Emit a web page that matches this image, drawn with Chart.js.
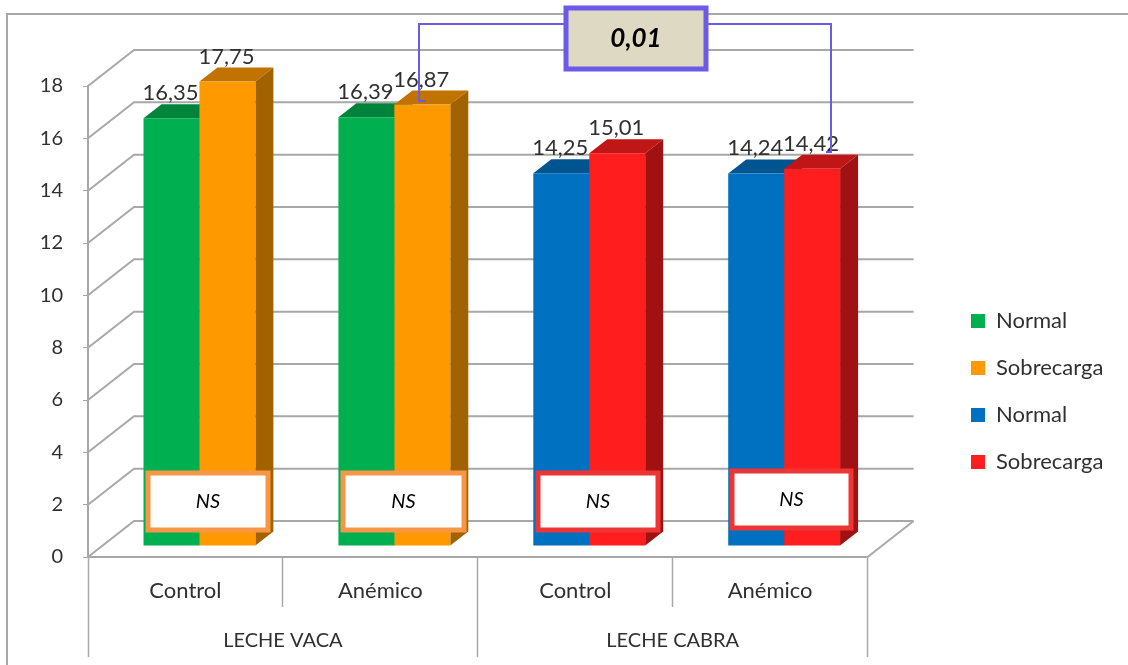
<!DOCTYPE html>
<html lang="es">
<head>
<meta charset="utf-8">
<title>Leche vaca / leche cabra</title>
<script src="https://cdn.jsdelivr.net/npm/chart.js@4/dist/chart.umd.min.js"></script>
<style>
    html, body { margin: 0; padding: 0; background: #ffffff; }
    canvas { display: block; }
</style>
</head>
<body>
<canvas id="grafico" width="1128" height="665"></canvas>
<script>
const categorias = ['Control', 'Anémico', 'Control', 'Anémico']
const grupos = ['LECHE VACA', 'LECHE CABRA']
const valores_y = [0, 2, 4, 6, 8, 10, 12, 14, 16, 18]

const normal_vaca = [16.35, 16.39, null, null]
const sobrecarga_vaca = [17.75, 16.87, null, null]
const normal_cabra = [null, null, 14.25, 14.24]
const sobrecarga_cabra = [null, null, 15.01, 14.42]

const etiqueta_ns = 'NS'
const etiqueta_p = '0,01'

const FONTE = 'Lato, "Open Sans", sans-serif'
const COR_EIXO = '#a8a8a8'
const COR_TEXTO = '#303030'
const COR_CALLOUT = '#6c5ae8'

// profundidade da caixa 3D (parede do fundo) e das barras
const FUNDO_X = 46
const FUNDO_Y = -36
const BARRA_X = 14
const BARRA_Y = -11
const BARRA_PROF_X = 18
const BARRA_PROF_Y = -14

// caixas NS: x, y, largura, altura e cor da borda
const caixas_ns = [
    [148, 473, 120, 57, '#f79646'],
    [343, 473, 121, 57, '#f79646'],
    [538, 473, 120, 57, '#ee3535'],
    [732, 471, 119, 57, '#ee3535'],
]

function desenhar_caixa_fundo(chart) {
    const ctx = chart.ctx
    const area = chart.chartArea
    const y = chart.scales.y
    ctx.save()
    ctx.strokeStyle = COR_EIXO
    ctx.lineWidth = 2
    valores_y.forEach(v => {
        const py = y.getPixelForValue(v)
        ctx.beginPath()
        ctx.moveTo(area.left, py)
        ctx.lineTo(area.left + FUNDO_X, py + FUNDO_Y)
        ctx.lineTo(area.right + FUNDO_X, py + FUNDO_Y)
        ctx.stroke()
    })
    // lateral direita do chao
    ctx.beginPath()
    ctx.moveTo(area.right, area.bottom)
    ctx.lineTo(area.right + FUNDO_X, area.bottom + FUNDO_Y)
    ctx.stroke()
    ctx.restore()
}

function desenhar_faces(chart) {
    const ctx = chart.ctx
    chart.data.datasets.forEach((ds, i) => {
        chart.getDatasetMeta(i).data.forEach((barra, j) => {
            if (ds.data[j] == null) return
            const esq = barra.x - barra.width / 2
            const dir = barra.x + barra.width / 2
            // topo
            ctx.fillStyle = ds.corTopo
            ctx.beginPath()
            ctx.moveTo(esq, barra.y)
            ctx.lineTo(esq + BARRA_PROF_X, barra.y + BARRA_PROF_Y)
            ctx.lineTo(dir + BARRA_PROF_X, barra.y + BARRA_PROF_Y)
            ctx.lineTo(dir, barra.y)
            ctx.closePath()
            ctx.fill()
            // lateral
            ctx.fillStyle = ds.corLado
            ctx.beginPath()
            ctx.moveTo(dir, barra.y)
            ctx.lineTo(dir + BARRA_PROF_X, barra.y + BARRA_PROF_Y)
            ctx.lineTo(dir + BARRA_PROF_X, barra.base + BARRA_PROF_Y)
            ctx.lineTo(dir, barra.base)
            ctx.closePath()
            ctx.fill()
        })
    })
}

function desenhar_valores(chart) {
    const ctx = chart.ctx
    ctx.save()
    ctx.font = '22px ' + FONTE
    ctx.fillStyle = COR_TEXTO
    ctx.textAlign = 'center'
    ctx.textBaseline = 'middle'
    chart.data.datasets.forEach((ds, i) => {
        chart.getDatasetMeta(i).data.forEach((barra, j) => {
            if (ds.data[j] == null) return
            const texto = ds.data[j].toFixed(2).replace('.', ',')
            ctx.fillText(texto, barra.x + BARRA_X - 1, barra.y + BARRA_Y - 25)
        })
    })
    ctx.restore()
}

function desenhar_anotacoes(chart) {
    const ctx = chart.ctx
    ctx.save()
    ctx.textAlign = 'center'
    ctx.textBaseline = 'middle'

    caixas_ns.forEach(c => {
        ctx.fillStyle = '#ffffff'
        ctx.strokeStyle = c[4]
        ctx.lineWidth = 5
        ctx.fillRect(c[0], c[1], c[2], c[3])
        ctx.strokeRect(c[0], c[1], c[2], c[3])
        ctx.fillStyle = '#000000'
        ctx.font = 'italic 20px ' + FONTE
        ctx.fillText(etiqueta_ns, c[0] + c[2] / 2, c[1] + c[3] / 2)
    })

    // colchete entre as duas barras comparadas
    ctx.strokeStyle = COR_CALLOUT
    ctx.lineWidth = 2
    ctx.beginPath()
    ctx.moveTo(426, 101)
    ctx.lineTo(419, 101)
    ctx.lineTo(419, 24)
    ctx.lineTo(831, 24)
    ctx.lineTo(831, 152)
    ctx.lineTo(826, 152)
    ctx.stroke()

    ctx.fillStyle = '#ddd9c3'
    ctx.strokeStyle = COR_CALLOUT
    ctx.lineWidth = 5
    ctx.fillRect(566, 8, 140, 61)
    ctx.strokeRect(566, 8, 140, 61)
    ctx.fillStyle = '#000000'
    ctx.font = 'italic bold 26px ' + FONTE
    ctx.fillText(etiqueta_p, 636, 39)
    ctx.restore()
}

const plugin_3d = {
    id: 'plugin_3d',
    beforeInit(chart) {
        // o texto do grafico e um pouco espacado
        chart.ctx.letterSpacing = '1.5px'
    },
    beforeDraw(chart) {
        // moldura externa
        const ctx = chart.ctx
        ctx.save()
        ctx.strokeStyle = COR_EIXO
        ctx.lineWidth = 2
        ctx.beginPath()
        ctx.moveTo(7, 665)
        ctx.lineTo(7, 14)
        ctx.lineTo(1128, 14)
        ctx.stroke()
        ctx.restore()
    },
    afterLayout(chart) {
        // legenda fica mais afastada do grafico
        chart.legend.left = 946
        chart.legend.right = 1128
        chart.legend.top = 285
        chart.legend.bottom = 285 + chart.legend.height
    },
    beforeDatasetsDraw(chart) {
        desenhar_caixa_fundo(chart)
        chart.ctx.save()
        chart.ctx.translate(BARRA_X, BARRA_Y)
        desenhar_faces(chart)
    },
    afterDatasetsDraw(chart) {
        chart.ctx.restore()
        desenhar_valores(chart)
        desenhar_anotacoes(chart)
    },
}

const data_leite = {
    labels: categorias,
    datasets: [
        { label: 'Normal', data: normal_vaca, stack: 'normal', backgroundColor: '#00b050', corTopo: '#00843c', corLado: '#007a36' },
        { label: 'Sobrecarga', data: sobrecarga_vaca, stack: 'sobrecarga', backgroundColor: '#ff9900', corTopo: '#c07300', corLado: '#a36200' },
        { label: 'Normal', data: normal_cabra, stack: 'normal', backgroundColor: '#0070c0', corTopo: '#005490', corLado: '#004a80' },
        { label: 'Sobrecarga', data: sobrecarga_cabra, stack: 'sobrecarga', backgroundColor: '#ff1d1d', corTopo: '#c01616', corLado: '#a01212' },
    ],
}

const config_leite = {
    type: 'bar',
    data: data_leite,
    plugins: [plugin_3d],
    options: {
        responsive: false,
        animation: false,
        categoryPercentage: 0.574,
        barPercentage: 1,
        layout: { padding: { top: 86, bottom: 8, right: 93, left: 0 } },
        plugins: {
            tooltip: { enabled: false },
            legend: {
                position: 'right',
                align: 'start',
                labels: {
                    boxWidth: 14,
                    boxHeight: 14,
                    padding: 25,
                    color: COR_TEXTO,
                    font: { family: FONTE, size: 22 },
                },
            },
        },
        scales: {
            x: {
                stacked: true,
                offset: true,
                afterFit(s) { s.height = 50 },
                border: { display: true, color: COR_EIXO, width: 2 },
                grid: { offset: true, drawOnChartArea: false, drawTicks: true, tickLength: 50, tickColor: COR_EIXO, tickWidth: 1.5 },
                ticks: { color: COR_TEXTO, padding: -29, maxRotation: 0, autoSkip: false, font: { family: FONTE, size: 22 } },
            },
            xGrupo: {
                type: 'category',
                axis: 'x',
                position: 'bottom',
                labels: grupos,
                offset: true,
                afterFit(s) { s.height = 50 },
                border: { display: false },
                grid: { offset: true, drawOnChartArea: false, drawTicks: true, tickLength: 50, tickColor: COR_EIXO, tickWidth: 1.5 },
                ticks: { color: COR_TEXTO, padding: -28, maxRotation: 0, autoSkip: false, font: { family: FONTE, size: 20 } },
            },
            y: {
                stacked: true,
                min: 0,
                max: 18,
                afterFit(s) { s.width = 88 },
                afterBuildTicks(s) { s.ticks = valores_y.map(v => ({ value: v })) },
                border: { display: true, color: COR_EIXO, width: 2 },
                grid: { drawOnChartArea: false, drawTicks: true, tickLength: 5, tickColor: COR_EIXO },
                ticks: { color: COR_TEXTO, padding: 20, font: { family: FONTE, size: 20 } },
            },
        },
    },
}

new Chart(document.getElementById('grafico'), config_leite)
</script>
</body>
</html>
